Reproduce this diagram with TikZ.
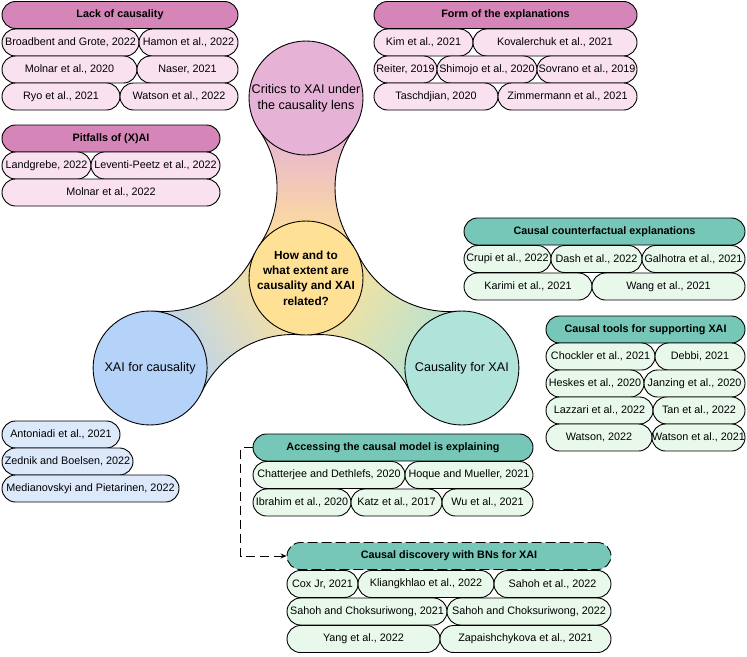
\documentclass[tikz,border=0pt]{standalone}
\usepackage{fontspec}
\setmainfont{Liberation Sans}
\usetikzlibrary{arrows.meta}
\tikzset{>={Stealth[length=6pt,width=5pt]}}

\definecolor{critic}{HTML}{E6B3D6}
\definecolor{core}{HTML}{FFE196}
\definecolor{forxai}{HTML}{B0E3DA}
\definecolor{forcaus}{HTML}{B5D3F8}
\definecolor{pinkhead}{HTML}{D585B8}
\definecolor{pinkbib}{HTML}{FAE1F0}
\definecolor{tealhead}{HTML}{76C7B7}
\definecolor{greenbib}{HTML}{E8F8EA}
\definecolor{bluebib}{HTML}{DCE9FB}

\tikzset{
  bib/.style={draw, rounded corners=13.5pt, minimum height=27pt, inner sep=0pt,
    font=\fontsize{10.8}{13}\selectfont},
  head/.style={bib, font=\fontsize{10.8}{13}\selectfont\bfseries},
  pk/.style={bib, fill=pinkbib},
  pkhead/.style={head, fill=pinkhead},
  gr/.style={bib, fill=greenbib},
  grhead/.style={head, fill=tealhead},
  bl/.style={bib, fill=bluebib},
  topic/.style={circle, draw, minimum size=114pt, inner sep=0pt, align=center,
    font=\fontsize{12.6}{15.5}\selectfont},
}

\begin{document}
\begin{tikzpicture}[x=1pt, y=-1pt, line width=0.9pt]
  \useasboundingbox (0,0) rectangle (747,656);
  \begin{scope}[shift={(306,278)}, y=1pt]
    \foreach \a/\c/\s in {90/critic/0, -30/forxai/-120, 210/forcaus/120}
      \shadedraw[top color=\c, bottom color=core, shading angle=\s]
        ({\a+55.4}:57) arc[start angle=\a+235.4, end angle=\a+304.6, radius=101.6pt]
        -- ++({\a-90}:93.9)
        arc[start angle=\a+55.4, end angle=\a+124.6, radius=101.6pt] -- cycle;
  \end{scope}
  \node[topic, fill=critic] (critics) at (306,98) {Critics to XAI under\\the causality lens};
  \node[topic, fill=core, font=\fontsize{11.8}{15.2}\selectfont\bfseries] (question) at (306,278)
    {How and to\\what extent are\\causality and XAI\\related?};
  \node[topic, fill=forxai] (cfx) at (461.9,368) {Causality for XAI};
  \node[topic, fill=forcaus] (xfc) at (150.1,368) {XAI for causality};

  \node[pkhead, minimum width=236pt] (lackH) at (120,15) {Lack of causality};
  \node[pk, minimum width=137pt] (broadbent) at (70.5,42.5) {Broadbent and Grote, 2022};
  \node[pk, minimum width=99pt] (hamon) at (188.5,42.5) {Hamon et al., 2022};
  \node[pk, minimum width=135pt] (molnarA) at (69.5,69.5) {Molnar et al., 2020};
  \node[pk, minimum width=101pt] (naser) at (187.5,69.5) {Naser, 2021};
  \node[pk, minimum width=118pt] (ryo) at (61,96.5) {Ryo et al., 2021};
  \node[pk, minimum width=118pt] (watsonA) at (179,96.5) {Watson et al., 2022};

  \node[pkhead, minimum width=218pt] (pitH) at (111,138.5) {Pitfalls of (X)AI};
  \node[pk, minimum width=89pt] (landgrebe) at (46.5,165.5) {Landgrebe, 2022};
  \node[pk, minimum width=129pt] (leventi) at (155.5,165.5) {Leventi-Peetz et al., 2022};
  \node[pk, minimum width=218pt] (molnarB) at (111,192.5) {Molnar et al., 2022};

  \node[pkhead, minimum width=263pt] (formH) at (505.5,15) {Form of the explanations};
  \node[pk, minimum width=99pt] (kim) at (423.5,42.5) {Kim et al., 2021};
  \node[pk, minimum width=164pt] (kovalerchuk) at (555,42.5) {Kovalerchuk et al., 2021};
  \node[pk, minimum width=63pt] (reiter) at (405.5,69.5) {Reiter, 2019};
  \node[pk, minimum width=100pt] (shimojo) at (487,69.5) {Shimojo et al., 2020};
  \node[pk, minimum width=100pt] (sovrano) at (587,69.5) {Sovrano et al., 2019};
  \node[pk, minimum width=124pt] (taschdjian) at (436,96.5) {Taschdjian, 2020};
  \node[pk, minimum width=139pt] (zimmermann) at (567.5,96.5) {Zimmermann et al., 2021};

  \node[grhead, minimum width=281pt] (cceH) at (604.5,231.5) {Causal counterfactual explanations};
  \node[gr, minimum width=87pt] (crupi) at (507.5,259) {Crupi et al., 2022};
  \node[gr, minimum width=91pt] (dash) at (596.5,259) {Dash et al., 2022};
  \node[gr, minimum width=103pt] (galhotra) at (693.5,259) {Galhotra et al., 2021};
  \node[gr, minimum width=128pt] (karimi) at (528,286.5) {Karimi et al., 2021};
  \node[gr, minimum width=153pt] (wang) at (668.5,286.5) {Wang et al., 2021};

  \node[grhead, minimum width=199pt] (ctH) at (645.5,329.5) {Causal tools for supporting XAI};
  \node[gr, minimum width=109pt] (chockler) at (600.5,356.5) {Chockler et al., 2021};
  \node[gr, minimum width=90pt] (debbi) at (700,356.5) {Debbi, 2021};
  \node[gr, minimum width=98pt] (heskes) at (595,383.5) {Heskes et al., 2020};
  \node[gr, minimum width=101pt] (janzing) at (694.5,383.5) {Janzing et al., 2020};
  \node[gr, minimum width=107pt] (lazzari) at (599.5,410.5) {Lazzari et al., 2022};
  \node[gr, minimum width=92pt] (tan) at (699,410.5) {Tan et al., 2022};
  \node[gr, minimum width=106pt] (watsonB) at (599,437.5) {Watson, 2022};
  \node[gr, minimum width=93pt] (watsonC) at (698.5,437.5) {Watson et al., 2021};

  \node[bl, minimum width=118pt] (antoniadi) at (61,434.5) {Antoniadi et al., 2021};
  \node[bl, minimum width=131pt] (zednik) at (67.5,461.5) {Zednik and Boelsen, 2022};
  \node[bl, minimum width=177pt] (medianovskyi) at (90.5,488.5) {Medianovskyi and Pietarinen, 2022};

  \node[grhead, minimum width=280pt] (accH) at (393,447.5) {Accessing the causal model is explaining};
  \node[gr, minimum width=152pt] (chatterjee) at (329,475) {Chatterjee and Dethlefs, 2020};
  \node[gr, minimum width=128pt] (hoque) at (469,475) {Hoque and Mueller, 2021};
  \node[gr, minimum width=98pt] (ibrahim) at (302,502.5) {Ibrahim et al., 2020};
  \node[gr, minimum width=91pt] (katz) at (396.5,502.5) {Katz et al., 2017};
  \node[gr, minimum width=91pt] (wu) at (487.5,502.5) {Wu et al., 2021};

  \node[grhead, minimum width=324pt, dash pattern=on 10pt off 4pt] (discH) at (449,556) {Causal discovery with BNs for XAI};
  \node[gr, minimum width=71pt] (cox) at (322.5,584) {Cox Jr, 2021};
  \node[gr, minimum width=136pt] (kliangkhlao) at (426,584) {Kliangkhlao et al., 2022};
  \node[gr, minimum width=117pt] (sahohA) at (552.5,584) {Sahoh et al., 2022};
  \node[gr, minimum width=160pt] (sahohB) at (367,611.5) {Sahoh and Choksuriwong, 2021};
  \node[gr, minimum width=164pt] (sahohC) at (529,611.5) {Sahoh and Choksuriwong, 2022};
  \node[gr, minimum width=153pt] (yang) at (363.5,639) {Yang et al., 2022};
  \node[gr, minimum width=171pt] (zapa) at (525.5,639) {Zapaishchykova et al., 2021};

  \draw[dash pattern=on 9pt off 5pt, ->] (accH.west) -- ++(-12,0) |- (discH.west);
\end{tikzpicture}
\end{document}
